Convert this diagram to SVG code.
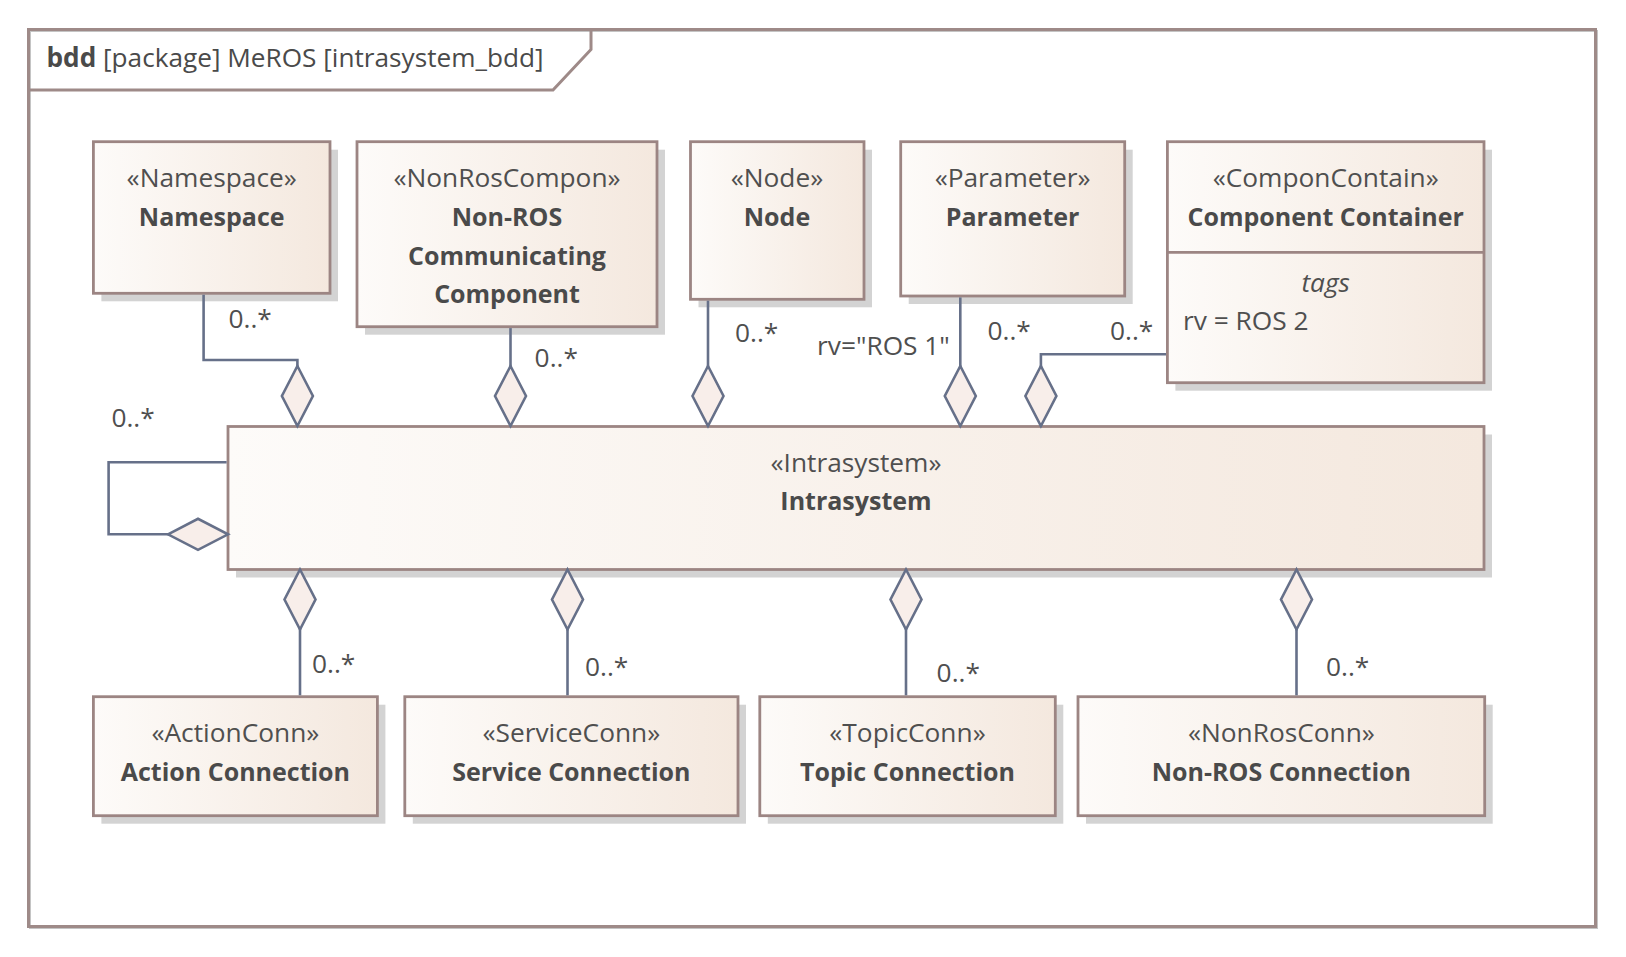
<svg xmlns="http://www.w3.org/2000/svg" width="1626" height="957" viewBox="0 0 1626 957">
  <style>
    .box { stroke: #9c8583; stroke-width: 2.8; fill: url(#blockFill); }
    .shadow { fill: #d3d3d3; stroke: none; }
    .st { font-family: "Open Sans", "Noto Sans", "Liberation Sans", sans-serif; font-size: 26.3px; fill: #4f4f4f; text-anchor: middle; }
    .nm { font-family: "Open Sans", "Noto Sans", "Liberation Sans", sans-serif; font-size: 25px; font-weight: bold; fill: #4a4a4a; text-anchor: middle; }
    .lbl { font-family: "Open Sans", "Noto Sans", "Liberation Sans", sans-serif; font-size: 26.3px; fill: #4f4f4f; }
    .conn { fill: none; stroke: #667089; stroke-width: 2.6; marker-end: url(#agg); }
    .frame { fill: none; stroke: #9e8a88; stroke-width: 3; }
  </style>
  <defs>
    <linearGradient id="blockFill" x1="0" y1="0" x2="1" y2="0">
      <stop offset="0" stop-color="#fdfbf9"/>
      <stop offset="1" stop-color="#f4e8de"/>
    </linearGradient>
    <!-- hollow diamond for shared aggregation, tip on the owning block -->
    <marker id="agg" markerUnits="userSpaceOnUse" markerWidth="62" markerHeight="33" viewBox="-1 -1 62 33" refX="60" refY="15.5" orient="auto" overflow="visible">
      <path d="M0,15.5 L30,0 L60,15.5 L30,31 Z" fill="#f8eeea" stroke="#667089" stroke-width="2.6" stroke-linejoin="miter"/>
    </marker>
  </defs>

  <rect width="1626" height="957" fill="#ffffff"/>

  <!-- diagram frame -->
  <g id="frame">
    <rect x="30" y="31" width="1567" height="897" fill="none" stroke="#c4c4c4" stroke-width="2"/>
    <rect x="28.5" y="29.5" width="1567" height="897" class="frame"/>
    <path d="M28.5,90 H553 L591,49.5 V29.5" class="frame"/>
    <text x="46.5" y="66.5" font-family="Open Sans, Noto Sans, Liberation Sans, sans-serif" font-size="26.2" fill="#4a4a4a"><tspan font-weight="bold">bdd</tspan> [package] MeROS [intrasystem_bdd]</text>
  </g>

  <g id="namespace">
    <rect class="shadow" x="101.4" y="149.7" width="236.6" height="151.6"/>
    <rect class="box" x="93.4" y="141.7" width="236.6" height="151.6"/>
    <text class="st" x="211.7" y="186.7">«Namespace»</text>
    <text class="nm" x="211.7" y="226">Namespace</text>
  </g>

  <g id="nonros-component">
    <rect class="shadow" x="365" y="149.7" width="300" height="185"/>
    <rect class="box" x="357" y="141.7" width="300" height="185"/>
    <text class="st" x="507" y="186.7">«NonRosCompon»</text>
    <text class="nm" x="507" y="226">Non-ROS</text>
    <text class="nm" x="507" y="264.5">Communicating</text>
    <text class="nm" x="507" y="303">Component</text>
  </g>

  <g id="node">
    <rect class="shadow" x="698.5" y="149.7" width="173.5" height="157.6"/>
    <rect class="box" x="690.5" y="141.7" width="173.5" height="157.6"/>
    <text class="st" x="777" y="186.7">«Node»</text>
    <text class="nm" x="777" y="226">Node</text>
  </g>

  <g id="parameter">
    <rect class="shadow" x="908.7" y="149.7" width="224" height="154.3"/>
    <rect class="box" x="900.7" y="141.7" width="224" height="154.3"/>
    <text class="st" x="1012.6" y="186.7">«Parameter»</text>
    <text class="nm" x="1012.6" y="226">Parameter</text>
  </g>

  <g id="component-container">
    <rect class="shadow" x="1175.4" y="149.7" width="316.6" height="241"/>
    <rect class="box" x="1167.4" y="141.7" width="316.6" height="241"/>
    <line x1="1167.4" y1="252.3" x2="1484" y2="252.3" stroke="#9c8583" stroke-width="2.8"/>
    <text class="st" x="1325.7" y="186.7">«ComponContain»</text>
    <text class="nm" x="1325.7" y="226">Component Container</text>
    <text class="st" x="1325.7" y="291.7" font-style="italic">tags</text>
    <text class="lbl" x="1183" y="330">rv = ROS 2</text>
  </g>

  <g id="intrasystem">
    <rect class="shadow" x="236" y="434.5" width="1256" height="143"/>
    <rect class="box" x="228" y="426.5" width="1256" height="143"/>
    <text class="st" x="856" y="471.7">«Intrasystem»</text>
    <text class="nm" x="856" y="510">Intrasystem</text>
  </g>

  <g id="action-connection">
    <rect class="shadow" x="101.4" y="704.7" width="284" height="119"/>
    <rect class="box" x="93.4" y="696.7" width="284" height="119"/>
    <text class="st" x="235.4" y="741.7">«ActionConn»</text>
    <text class="nm" x="235.4" y="780.7">Action Connection</text>
  </g>

  <g id="service-connection">
    <rect class="shadow" x="412.8" y="704.7" width="333.2" height="119"/>
    <rect class="box" x="404.8" y="696.7" width="333.2" height="119"/>
    <text class="st" x="571.4" y="741.7">«ServiceConn»</text>
    <text class="nm" x="571.4" y="780.7">Service Connection</text>
  </g>

  <g id="topic-connection">
    <rect class="shadow" x="767.8" y="704.7" width="295.5" height="119"/>
    <rect class="box" x="759.8" y="696.7" width="295.5" height="119"/>
    <text class="st" x="907.5" y="741.7">«TopicConn»</text>
    <text class="nm" x="907.5" y="780.7">Topic Connection</text>
  </g>

  <g id="nonros-connection">
    <rect class="shadow" x="1086" y="704.7" width="406.7" height="119"/>
    <rect class="box" x="1078" y="696.7" width="406.7" height="119"/>
    <text class="st" x="1281.4" y="741.7">«NonRosConn»</text>
    <text class="nm" x="1281.4" y="780.7">Non-ROS Connection</text>
  </g>

  <!-- connectors, painted over the block shadows -->
  <g id="connectors">
    <path class="conn" d="M203.6,294.7 V360 H297.4 V426"/>
    <path class="conn" d="M510.5,328.1 V426"/>
    <path class="conn" d="M708,300.7 V426"/>
    <path class="conn" d="M960.3,297.4 V426"/>
    <path class="conn" d="M1166,354.3 H1040.9 V426"/>
    <path class="conn" d="M226.6,462.3 H108.6 V534.3 H228"/>
    <path class="conn" d="M300,695.3 V569.5"/>
    <path class="conn" d="M567.5,695.3 V569.5"/>
    <path class="conn" d="M906,695.3 V569.5"/>
    <path class="conn" d="M1296.5,695.3 V569.5"/>
    <g id="multiplicities">
      <text class="lbl" x="228.5" y="328">0..*</text>
      <text class="lbl" x="534.6" y="367">0..*</text>
      <text class="lbl" x="111.4" y="427">0..*</text>
      <text class="lbl" x="735" y="342">0..*</text>
      <text class="lbl" x="817" y="355">rv="ROS 1"</text>
      <text class="lbl" x="987.5" y="340">0..*</text>
      <text class="lbl" x="1110" y="340">0..*</text>
      <text class="lbl" x="312" y="673">0..*</text>
      <text class="lbl" x="585" y="676">0..*</text>
      <text class="lbl" x="936.6" y="682">0..*</text>
      <text class="lbl" x="1326" y="676">0..*</text>
    </g>
  </g>
</svg>
